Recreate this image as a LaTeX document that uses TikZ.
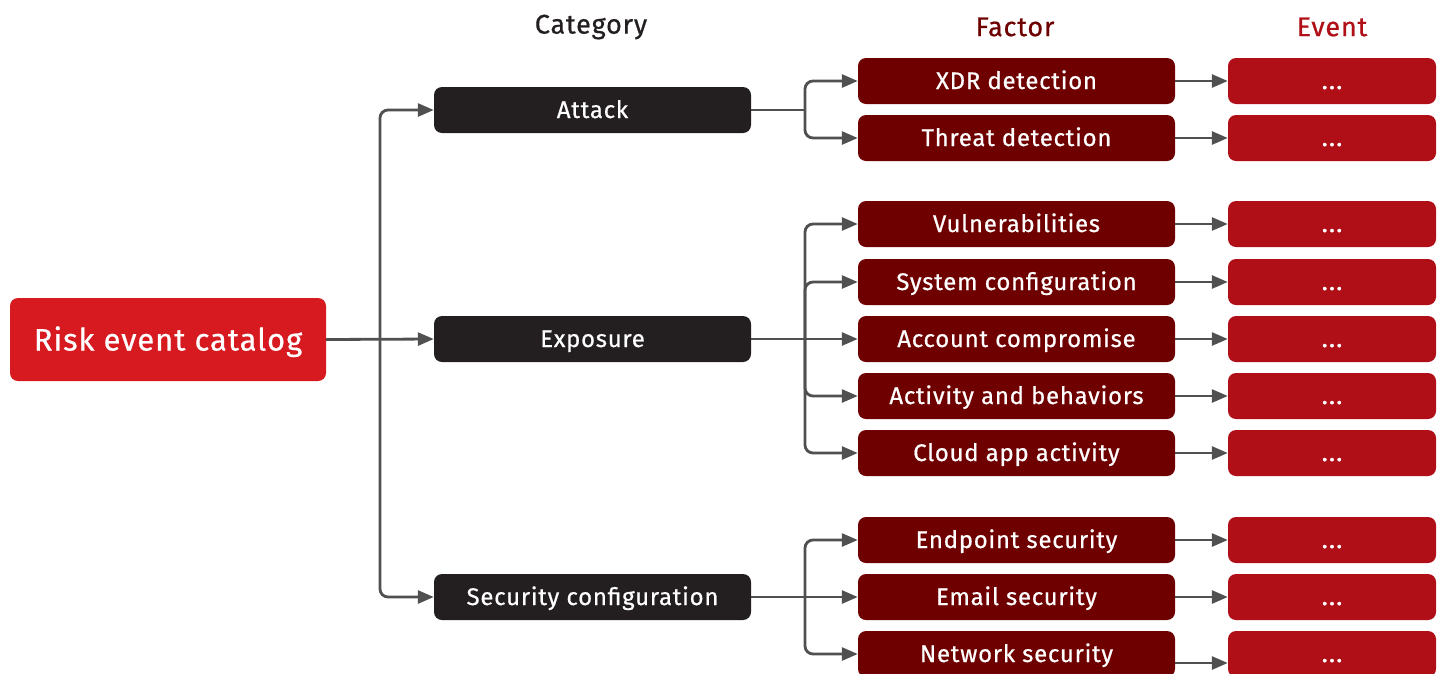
\documentclass[tikz,border=0pt]{standalone}
\usepackage{fontspec}
\setmainfont{Fira Sans}[FakeBold=0.6, LetterSpace=3]
\newfontfamily\dotsfont{Fira Sans}[FakeBold=1.6]
\usetikzlibrary{arrows.meta}
\definecolor{rootred}{HTML}{D71920}
\definecolor{catblack}{HTML}{231F20}
\definecolor{factred}{HTML}{6E0000}
\definecolor{eventred}{HTML}{B00F17}
\definecolor{linkgray}{HTML}{505050}
\begin{document}
\begin{tikzpicture}[x=1pt,y=-1pt,
  box/.style={rectangle, rounded corners=8pt, text=white, inner sep=0pt,
    minimum height=46pt, text height=16pt, text depth=0pt,
    font=\fontsize{24}{28}\selectfont},
  rootbox/.style={box, fill=rootred, minimum width=316pt, minimum height=83pt,
    text height=22pt, font=\fontsize{31}{37}\selectfont},
  catbox/.style={box, fill=catblack, minimum width=317pt},
  factbox/.style={box, fill=factred, minimum width=317pt},
  eventbox/.style={box, fill=eventred, minimum width=208pt,
    font=\dotsfont\fontsize{24}{28}\selectfont},
  header/.style={font=\fontsize{27}{32}\selectfont, inner sep=0pt},
  plain/.style={draw=linkgray, line width=2.8pt},
  link/.style={plain, -{Triangle[length=16pt,width=13pt]}, rounded corners=8pt}
]
\useasboundingbox (0,0) rectangle (1440,673);
\clip (0,0) rectangle (1440,673);

% column headers
\node[header, text=catblack] (hcat) at (591,27) {Category};
\node[header, text=factred] (hfact) at (1015,27) {Factor};
\node[header, text=eventred] (hevent) at (1332,27) {Event};

% catalog and categories
\node[rootbox] (root) at (168,339.5) {Risk event catalog};
\node[catbox] (c1) at (592.5,110) {Attack};
\node[catbox] (c2) at (592.5,339) {Exposure};
\node[catbox] (c3) at (592.5,597) {Security configuration};

% factors
\node[factbox] (f1) at (1016.5,81) {XDR detection};
\node[factbox] (f2) at (1016.5,138) {Threat detection};
\node[factbox] (f3) at (1016.5,224) {Vulnerabilities};
\node[factbox] (f4) at (1016.5,282) {System configuration};
\node[factbox] (f5) at (1016.5,339) {Account compromise};
\node[factbox] (f6) at (1016.5,396) {Activity and behaviors};
\node[factbox] (f7) at (1016.5,453) {Cloud app activity};
\node[factbox] (f8) at (1016.5,540) {Endpoint security};
\node[factbox] (f9) at (1016.5,597) {Email security};
\node[factbox] (f10) at (1016.5,654) {Network security};

% events (kerns keep the three full stops from becoming one glyph)
\foreach \i/\y in {1/81,2/138,3/224,4/282,5/339,6/396,7/453,8/540,9/597,10/654}
  \node[eventbox] (e\i) at (1332,\y) {.\kern1.5pt.\kern1.5pt.};

% catalog to categories
\coordinate (trunk) at (380,339);
\draw[link] (root.east) -- (c2.west);
\draw[link] (trunk) |- (c1.west);
\draw[link] (trunk) |- (c3.west);

% categories to factors
\coordinate (b1) at (805,110);
\coordinate (b2) at (805,339);
\coordinate (b3) at (805,597);
\draw[plain] (c1.east) -- (b1);
\draw[link] (b1) |- (f1.west);
\draw[link] (b1) |- (f2.west);
\draw[link] (c2.east) -- (f5.west);
\foreach \f in {f3,f4,f6,f7} \draw[link] (b2) |- (\f.west);
\draw[link] (c3.east) -- (f9.west);
\draw[link] (b3) |- (f8.west);
\draw[link] (b3) |- (f10.west);

% factors to events
\foreach \i in {1,...,9} \draw[link] (f\i.east) -- (e\i.west);
\draw[link] ([yshift=-9pt]f10.east) -- ([yshift=-9pt]e10.west);
\end{tikzpicture}
\end{document}
